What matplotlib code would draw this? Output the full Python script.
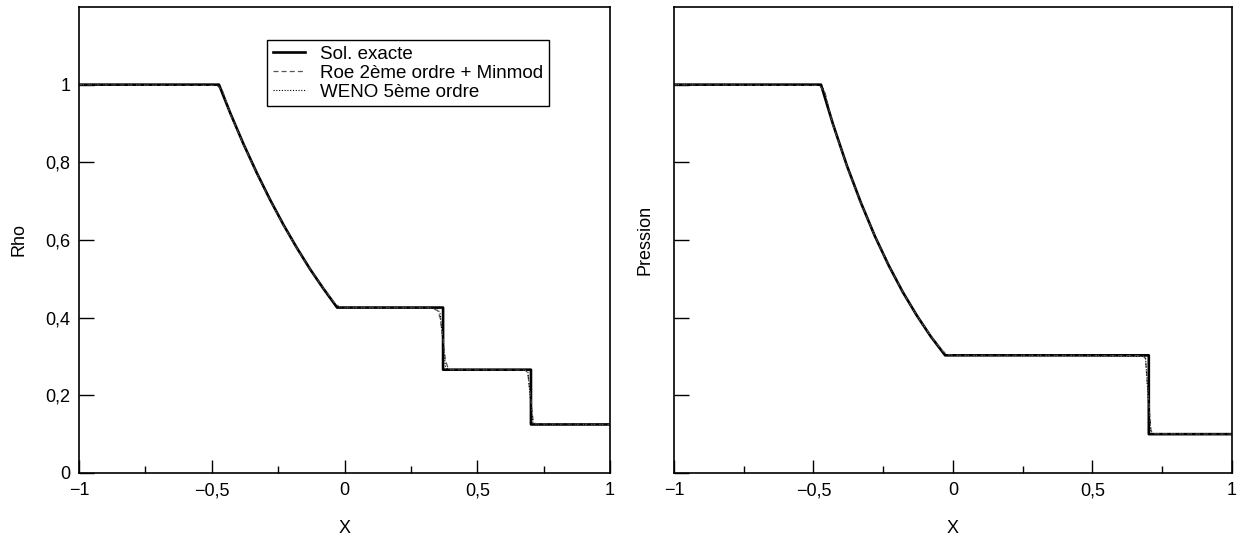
import numpy as np
import matplotlib.pyplot as plt
from matplotlib.ticker import FuncFormatter, MultipleLocator

plt.rcParams['font.family'] = ['Liberation Sans', 'DejaVu Sans']
plt.rcParams['font.size'] = 13

# exact solution
x_ex = [-1.0, -0.473, -0.43, -0.38, -0.33, -0.28, -0.23, -0.18, -0.13, -0.08, -0.028,
        0.371, 0.371, 0.702, 0.702, 1.0]
rho_ex = [1.0, 1.0, 0.926, 0.846, 0.772, 0.703, 0.639, 0.580, 0.525, 0.475, 0.426,
          0.426, 0.266, 0.266, 0.125, 0.125]
p_ex = [1.0, 1.0, 0.898, 0.791, 0.696, 0.610, 0.534, 0.466, 0.406, 0.352, 0.303,
        0.303, 0.303, 0.303, 0.1, 0.1]

# Roe 2nd order + Minmod
x_roe = [-1.0, -0.48, -0.46, -0.43, -0.38, -0.33, -0.28, -0.23, -0.18, -0.13, -0.08,
         -0.04, -0.02, 0.0, 0.33, 0.35, 0.36, 0.37, 0.38, 0.39, 0.40, 0.68, 0.69,
         0.70, 0.71, 0.72, 1.0]
rho_roe = [1.0, 0.998, 0.985, 0.924, 0.845, 0.771, 0.702, 0.638, 0.579, 0.525, 0.476,
           0.440, 0.428, 0.426, 0.425, 0.418, 0.400, 0.350, 0.290, 0.270, 0.266, 0.265,
           0.258, 0.200, 0.135, 0.126, 0.125]
p_roe = [1.0, 0.998, 0.984, 0.896, 0.790, 0.695, 0.610, 0.534, 0.466, 0.406, 0.353,
         0.316, 0.305, 0.303, 0.303, 0.303, 0.303, 0.303, 0.303, 0.303, 0.303, 0.302,
         0.295, 0.200, 0.108, 0.101, 0.1]

# WENO 5th order
x_weno = [-1.0, -0.48, -0.465, -0.43, -0.38, -0.33, -0.28, -0.23, -0.18, -0.13, -0.08,
          -0.035, -0.02, 0.0, 0.35, 0.36, 0.37, 0.38, 0.39, 0.69, 0.70, 0.71, 0.72, 1.0]
rho_weno = [1.0, 0.999, 0.99, 0.925, 0.846, 0.772, 0.703, 0.639, 0.580, 0.525, 0.475,
            0.432, 0.427, 0.426, 0.424, 0.410, 0.340, 0.275, 0.266, 0.264, 0.190, 0.128,
            0.125, 0.125]
p_weno = [1.0, 0.999, 0.99, 0.897, 0.791, 0.696, 0.610, 0.534, 0.466, 0.406, 0.352,
          0.308, 0.304, 0.303, 0.303, 0.303, 0.303, 0.303, 0.303, 0.300, 0.190, 0.102,
          0.1, 0.1]

labels = ["Sol. exacte", "Roe 2ème ordre + Minmod", "WENO 5ème ordre"]

fig = plt.figure(figsize=(12.41, 5.37), dpi=100)
ax1 = fig.add_axes([0.0637, 0.1192, 0.4279, 0.8678])
ax2 = fig.add_axes([0.5431, 0.1192, 0.4496, 0.8678])

comma = FuncFormatter(lambda v, pos: ('%g' % v).replace('.', ',').replace('-', '\u2212'))

for ax, yex, yroe, yweno, ylab in [(ax1, rho_ex, rho_roe, rho_weno, "Rho"),
                                    (ax2, p_ex, p_roe, p_weno, "Pression")]:
    ax.plot(x_ex, yex, color='black', lw=1.9, label=labels[0])
    ax.plot(x_roe, yroe, color='#555555', lw=0.9, ls=(0, (4, 2.5)), label=labels[1])
    ax.plot(x_weno, yweno, color='black', lw=0.8, ls=(0, (1, 1.5)), label=labels[2])
    ax.set_xlim(-1, 1)
    ax.set_ylim(0, 1.2)
    ax.xaxis.set_major_locator(MultipleLocator(0.5))
    ax.xaxis.set_minor_locator(MultipleLocator(0.25))
    ax.set_yticks([0, 0.2, 0.4, 0.6, 0.8, 1.0])
    ax.xaxis.set_major_formatter(comma)
    ax.yaxis.set_major_formatter(comma)
    ax.tick_params(axis='x', which='major', direction='in', length=9.5, width=1, pad=6.5)
    ax.tick_params(axis='x', which='minor', direction='in', length=5, width=1)
    ax.tick_params(axis='y', which='major', direction='in', length=11, width=1, pad=6)
    for s in ax.spines.values():
        s.set_linewidth(1.2)
    ax.set_xlabel("X")
    ax.set_ylabel(ylab)
    ax.xaxis.set_label_coords(0.5, -0.101)

ax1.yaxis.set_label_coords(-0.097, 0.5)
ax2.yaxis.set_label_coords(-0.036, 0.5)
ax2.set_yticklabels([])

leg = ax1.legend(loc='upper left', bbox_to_anchor=(0.354, 0.929), fontsize=13.5,
                 fancybox=False, edgecolor='black', framealpha=1, handlelength=1.7,
                 borderpad=0.3, labelspacing=0.1, handletextpad=0.85,
                 borderaxespad=0)
leg.get_frame().set_linewidth(1.0)

fig.savefig("out.png", dpi=100)
